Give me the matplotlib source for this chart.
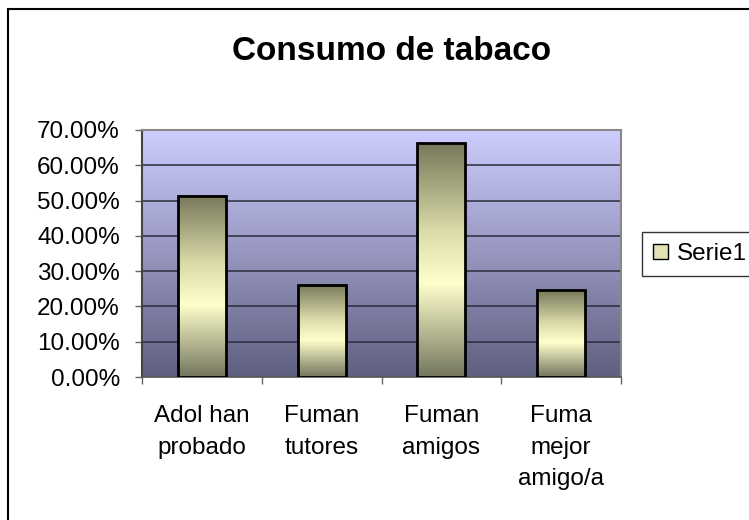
import numpy as np
import matplotlib
matplotlib.use("Agg")
import matplotlib.pyplot as plt
from matplotlib.colors import LinearSegmentedColormap
from matplotlib.patches import Rectangle
from matplotlib.ticker import FuncFormatter

plt.rcParams['font.family'] = ['Liberation Sans', 'DejaVu Sans']

# Datos
categorias = ["Adol han\nprobado", "Fuman\ntutores", "Fuman\namigos", "Fuma\nmejor\namigo/a"]
valores = [0.514, 0.262, 0.662, 0.246]
serie = "Serie1"
titulo = "Consumo de tabaco"

fig = plt.figure(figsize=(7.49, 5.2), dpi=100)
ax = fig.add_axes([142/749, 143/520, 479/749, 247/520])

# marco exterior (recortado por la derecha y abajo)
fig.patches.append(Rectangle((8/749, -0.1), 1.2, 1 - 9/520 + 0.1, transform=fig.transFigure,
                             fill=False, edgecolor='black', lw=1.5, zorder=0))

x = np.arange(len(categorias))
ax.set_xlim(-0.5, len(categorias) - 0.5)
ax.set_ylim(0, 0.70)

# fondo degradado
fondo = LinearSegmentedColormap.from_list("fondo", ["#5f5f80", "#cdcdff"])
grad = np.linspace(0, 1, 256).reshape(-1, 1)
ax.imshow(grad, cmap=fondo, aspect='auto', origin='lower',
          extent=[-0.5, len(categorias) - 0.5, 0, 0.70], zorder=0)

# lineas de division
for v in np.arange(0.1, 0.701, 0.1):
    ax.axhline(v, color='#2b2b3c', lw=1.1, zorder=1)

# barras con degradado vertical
barras = ax.bar(x, valores, width=0.4, facecolor='none', edgecolor='black', lw=2, zorder=3)
tono = LinearSegmentedColormap.from_list(
    "tono", [(0, "#74765e"), (0.4, "#ffffcc"), (0.62, "#dcdcaa"), (1.0, "#77785a")])
for b in barras:
    ax.imshow(grad, cmap=tono, aspect='auto', origin='lower',
              extent=[b.get_x(), b.get_x() + b.get_width(), b.get_y(), b.get_y() + b.get_height()],
              zorder=2)

ax.set_yticks(np.arange(0, 0.701, 0.1))
ax.yaxis.set_major_formatter(FuncFormatter(lambda v, p: f"{v*100:.2f}%"))
ax.set_xticks(np.arange(-0.5, len(categorias), 1.0))
ax.set_xticklabels([])
ax.set_xticks(x, minor=True)
ax.set_xticklabels(categorias, minor=True, linespacing=1.58)
ax.tick_params(axis='x', which='minor', length=0, pad=20, labelsize=17.5)
ax.tick_params(axis='x', which='major', length=5, width=1, color='#666666', direction='out')
ax.tick_params(axis='y', length=5, width=1, color='#666666', pad=11, labelsize=17.5)

for lado in ['top', 'right']:
    ax.spines[lado].set_color('#888888')
    ax.spines[lado].set_linewidth(1.5)
ax.spines['left'].set_color('#444444')
ax.spines['left'].set_linewidth(1.5)
ax.spines['bottom'].set_color('#555555')
ax.spines['bottom'].set_linewidth(1.2)

fig.text(392/749, 1 - 52/520, titulo, ha='center', va='center', fontsize=24, fontweight='bold')

muestra = Rectangle((0, 0), 1, 1, facecolor='#e2e2b2', edgecolor='black', lw=1)
leg = fig.legend([muestra], [serie], loc='upper left', bbox_to_anchor=(642/749, 1 - 232/520),
                 frameon=True, fancybox=False, fontsize=17.5, borderaxespad=0,
                 handlelength=0.6, handleheight=0.6, handletextpad=0.4, borderpad=0.45)
leg.get_frame().set_edgecolor('black')
leg.get_frame().set_linewidth(1)

fig.savefig("out.png", dpi=100)
